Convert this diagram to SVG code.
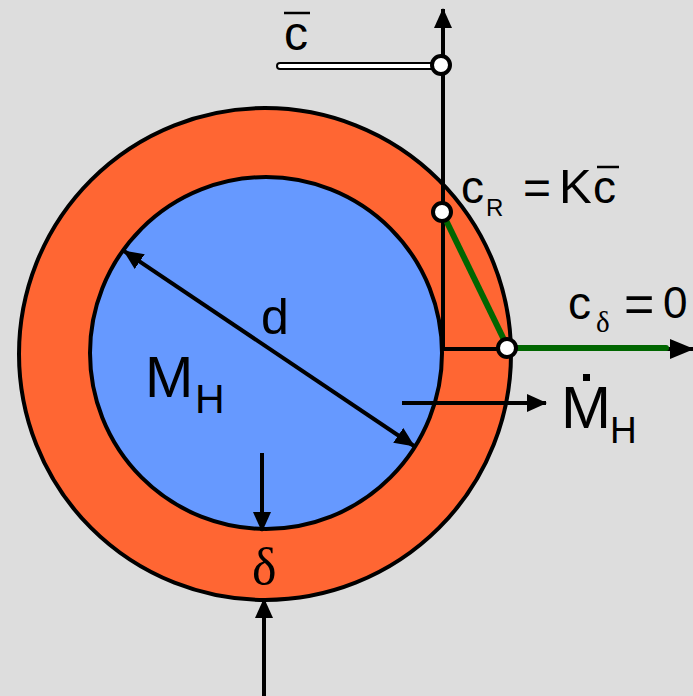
<svg xmlns="http://www.w3.org/2000/svg" width="693" height="696" viewBox="0 0 693 696">
<defs>
<marker id="ahs" markerWidth="20" markerHeight="18" refX="19" refY="9" orient="auto-start-reverse" markerUnits="userSpaceOnUse" viewBox="0 0 20 18">
<path d="M0,0 L20,9 L0,18 Z" fill="#000"/>
</marker>
<marker id="ahl" markerWidth="24" markerHeight="20" refX="23" refY="10" orient="auto" markerUnits="userSpaceOnUse" viewBox="0 0 24 20">
<path d="M0,0 L24,10 L0,20 Z" fill="#000"/>
</marker>
</defs>
<style>
.t{font-family:"Liberation Sans",Arial,sans-serif;fill:#000}
.s{font-family:"Liberation Serif","Times New Roman",serif;fill:#000}
.ln{stroke:#000;stroke-width:4;fill:none}
.pt{fill:#fff;stroke:#000;stroke-width:4}
</style>
<rect width="693" height="696" fill="#DDDDDD"/>
<g id="outer">
<circle cx="265" cy="354" r="246" fill="#FF6633" stroke="#000" stroke-width="4"/>
</g>
<g id="inner">
<circle cx="266" cy="353" r="176" fill="#6699FF" stroke="#000" stroke-width="4"/>
</g>
<g id="connectors">
<line class="ln" x1="443" y1="350" x2="443" y2="9" marker-end="url(#ahs)"/>
<line class="ln" x1="443" y1="349" x2="693" y2="349" marker-end="url(#ahl)"/>
<line x1="442" y1="212" x2="508" y2="348" stroke="#006600" stroke-width="6"/>
<line x1="508" y1="348" x2="666" y2="348" stroke="#006600" stroke-width="6" stroke-linecap="round"/>
<line x1="280" y1="66" x2="441" y2="66" stroke="#000" stroke-width="8" stroke-linecap="round"/>
<line x1="280" y1="66" x2="441" y2="66" stroke="#fff" stroke-width="4" stroke-linecap="round"/>
<line class="ln" x1="124" y1="251" x2="414" y2="446" marker-start="url(#ahs)" marker-end="url(#ahs)"/>
<line class="ln" x1="402" y1="403" x2="546" y2="403" marker-end="url(#ahs)"/>
<line class="ln" x1="262" y1="453" x2="262" y2="531" marker-end="url(#ahs)"/>
<line class="ln" x1="264" y1="696" x2="264" y2="599" marker-end="url(#ahs)"/>
</g>
<g id="points">
<circle class="pt" cx="441" cy="65" r="9"/>
<circle class="pt" cx="442" cy="212" r="9"/>
<circle class="pt" cx="507" cy="348" r="9"/>
</g>
<g id="labels">
<text class="t" x="284" y="50" font-size="48">c</text>
<line x1="284" y1="13" x2="310" y2="13" stroke="#000" stroke-width="2.5"/>
<text class="t" x="461" y="203" font-size="46">c</text>
<text class="t" x="486" y="216" font-size="24">R</text>
<text class="t" x="523" y="204" font-size="48">=</text>
<text class="t" x="559" y="203" font-size="49">K</text>
<text class="t" x="593" y="203" font-size="46">c</text>
<line x1="597" y1="167" x2="619" y2="167" stroke="#000" stroke-width="2.5"/>
<text class="t" x="568" y="319" font-size="46">c</text>
<text class="s" x="596" y="332" font-size="29">δ</text>
<text class="t" x="624" y="322" font-size="52">=</text>
<text class="t" x="663" y="318" font-size="44">0</text>
<text class="t" x="561" y="428" font-size="60">M</text>
<rect x="583" y="374" width="7" height="7" fill="#000"/>
<text class="t" x="610" y="443" font-size="37">H</text>
<text class="t" x="145" y="397" font-size="58">M</text>
<text class="t" x="195" y="413" font-size="41">H</text>
<text class="t" x="261" y="334" font-size="50">d</text>
<text class="s" x="252" y="584" font-size="52">δ</text>
</g>
</svg>
